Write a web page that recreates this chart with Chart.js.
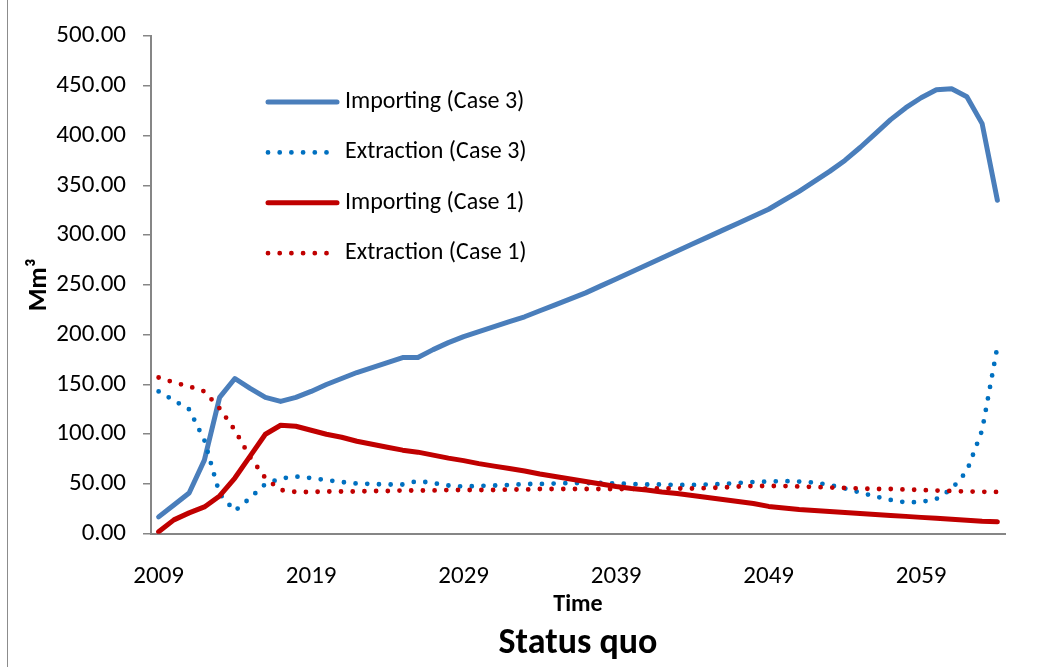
<!DOCTYPE html>
<html>
<head>
<meta charset="utf-8">
<script src="https://cdn.jsdelivr.net/npm/chart.js@4"></script>
<style>
  html, body { margin: 0; padding: 0; background: #fff; }
  #wrap { position: relative; width: 1039px; height: 667px; }
  #frame { position: absolute; left: 7px; top: 0; width: 0; height: 667px; border-left: 1px solid #8c8c8c; }
</style>
</head>
<body>
<div id="wrap">
  <canvas id="chart" width="1039" height="667"></canvas>
  <div id="frame"></div>
</div>
<script>
/* ─── DATA ────────────────────────────────────────────────── */
const years = [
  '2009','2010','2011','2012','2013','2014','2015','2016','2017','2018',
  '2019','2020','2021','2022','2023','2024','2025','2026','2027','2028',
  '2029','2030','2031','2032','2033','2034','2035','2036','2037','2038',
  '2039','2040','2041','2042','2043','2044','2045','2046','2047','2048',
  '2049','2050','2051','2052','2053','2054','2055','2056','2057','2058',
  '2059','2060','2061','2062','2063','2064',
];

const importingCase3 = [
  17, 29, 41, 74, 137, 156, 146, 137, 133, 137,
  143, 150, 156, 162, 167, 172, 177, 177, 185, 192,
  198, 203, 208, 213, 218, 224, 230, 236, 242, 249,
  256, 263, 270, 277, 284, 291, 298, 305, 312, 319,
  326, 335, 344, 354, 364, 375, 388, 402, 416, 428,
  438, 446, 447, 439, 412, 335,
];

const extractionCase3 = [
  143, 134, 125, 94, 40, 23, 36, 50, 55.5, 57.5,
  56, 54, 52, 50.5, 50, 49.5, 49.5, 53, 51, 48.5,
  47.5, 48, 48.5, 49, 50, 50, 50.5, 51, 51, 51,
  50.5, 50, 49.5, 49.5, 49, 49, 49.5, 50, 51, 52,
  52.5, 53, 52.5, 51.5, 49, 45.5, 41.5, 37.5, 34, 31.5,
  32, 35, 45, 63, 104, 188,
];

const importingCase1 = [
  2, 14, 21, 27, 38, 56, 78, 100, 109, 108,
  104, 100, 97, 93, 90, 87, 84, 82, 79, 76,
  73.5, 70.5, 68, 65.5, 63, 60, 57.5, 55, 52.5, 50,
  47.5, 45.5, 44, 42, 40.5, 38.5, 36.5, 34.5, 32.5, 30.5,
  27.5, 26, 24.5, 23.5, 22.5, 21.5, 20.5, 19.5, 18.5, 17.5,
  16.5, 15.5, 14.5, 13.5, 12.5, 12,
];

const extractionCase1 = [
  157, 152, 148, 143, 126, 104, 77, 56, 44, 42,
  42, 42.5, 42.5, 42.5, 43, 43, 43.5, 43.5, 43.5, 44,
  44, 44, 44, 44.5, 44.5, 45, 45, 45, 45, 45,
  45, 45, 45.5, 45.5, 45.5, 45.5, 46, 46.5, 47.5, 48,
  48, 48, 47.5, 47, 46.5, 46, 45.5, 45, 45, 44.5,
  44, 43.5, 43, 42.5, 42.2, 42,
];

const seriesNames = [
  'Importing (Case 3)',
  'Extraction (Case 3)',
  'Importing (Case 1)',
  'Extraction (Case 1)',
];

/* ─── STYLE ───────────────────────────────────────────────── */
const FONT   = 'Carlito, Lato, sans-serif';
const AXIS   = '#868686';
const BLUE   = '#4a7ebb';
const BLUE_D = '#0070c0';
const RED    = '#c00000';

Chart.defaults.color = '#000';
Chart.defaults.font.family = FONT;

const solid  = { borderWidth: 5, borderDash: [] };
const dotted = { borderWidth: 4.8, borderDash: [0, 11.7] };

/* ─── LEGEND (inside plot, Excel style) ───────────────────── */
const insideLegend = {
  id: 'insideLegend',
  afterDraw(chart) {
    const { ctx } = chart;
    chart.data.datasets.forEach((ds, i) => {
      const y = 102 + i * 50.4;
      ctx.save();
      ctx.strokeStyle = ds.borderColor;
      ctx.lineWidth   = ds.borderWidth;
      ctx.lineCap     = 'round';
      ctx.setLineDash(ds.borderDash || []);
      ctx.beginPath();
      ctx.moveTo(268, y);
      ctx.lineTo(ds.borderDash && ds.borderDash.length ? 330 : 337, y);
      ctx.stroke();
      ctx.setLineDash([]);
      ctx.fillStyle    = '#000';
      ctx.font         = `24px ${FONT}`;
      ctx.textBaseline = 'middle';
      ctx.fillText(ds.label, 345, y);
      ctx.restore();
    });
  },
};

/* ─── CHART ───────────────────────────────────────────────── */
const mk = (label, data, color, style, order) => ({
  label, data, order,
  borderColor: color,
  ...style,
  borderCapStyle: 'round',
  borderJoinStyle: 'round',
  pointRadius: 0,
  tension: 0,
  fill: false,
});

new Chart(document.getElementById('chart'), {
  type: 'line',
  data: {
    labels: years,
    datasets: [
      mk(seriesNames[0], importingCase3,  BLUE,   solid,  4),
      mk(seriesNames[1], extractionCase3, BLUE_D, dotted, 3),
      mk(seriesNames[2], importingCase1,  RED,    solid,  2),
      mk(seriesNames[3], extractionCase1, RED,    dotted, 1),
    ],
  },
  options: {
    responsive: false,
    animation: false,
    devicePixelRatio: 1,
    layout: { padding: { top: 36, right: 34, bottom: 0, left: 0 } },
    plugins: {
      legend: { display: false },
      tooltip: { enabled: false },
      title: {
        display: true,
        text: 'Status quo',
        position: 'bottom',
        fullSize: false,
        color: '#000',
        font: { family: FONT, size: 36, weight: 'bold' },
        padding: { top: 2, bottom: 1 },
      },
    },
    scales: {
      x: {
        type: 'category',
        offset: true,
        grid: { display: false, drawTicks: false },
        border: { display: true, color: AXIS, width: 2 },
        ticks: {
          autoSkip: false,
          maxRotation: 0,
          padding: 28,
          font: { size: 25 },
          callback: (v, i) => (i % 10 === 0 ? years[i] : null),
        },
        title: {
          display: true,
          text: 'Time',
          font: { family: FONT, size: 24, weight: 'bold' },
          padding: { top: 0, bottom: 1 },
        },
        afterFit: s => { s.height = 87; },
      },
      y: {
        min: 0,
        max: 500,
        grid: {
          display: true,
          drawOnChartArea: false,
          drawTicks: true,
          tickLength: 8,
          color: AXIS,
          lineWidth: 1.5,
        },
        border: { display: true, color: AXIS, width: 2 },
        ticks: {
          stepSize: 50,
          padding: 17,
          font: { size: 25 },
          callback: v => v.toFixed(2),
        },
        title: {
          display: true,
          text: 'Mm³',
          font: { family: FONT, size: 26, weight: 'bold' },
          padding: { top: 24, bottom: 0 },
        },
        afterFit: s => { s.width = 151; },
      },
    },
  },
  plugins: [insideLegend],
});
</script>
</body>
</html>
